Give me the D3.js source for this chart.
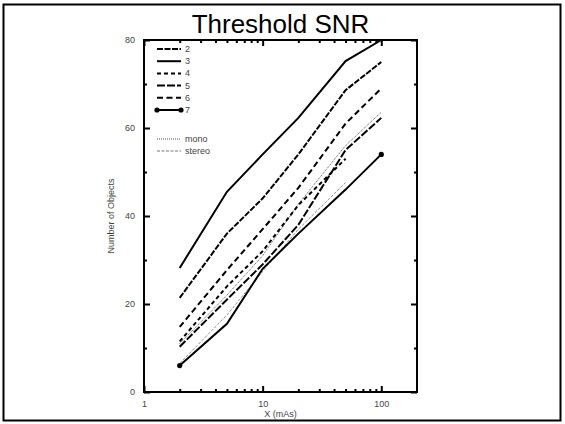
<!DOCTYPE html>
<html>
<head>
<meta charset="utf-8">
<script src="https://cdn.jsdelivr.net/npm/d3@7"></script>
<style>
  body { margin: 0; background: #fff; }
  svg { display: block; font-family: "Liberation Sans", Arial, sans-serif; }
</style>
</head>
<body>
<div id="chart"></div>
<script>
// data
const xValues = [2, 5, 10, 20, 50, 100];
const s2 = [21.4, 36, 44, 54, 68.6, 75];
const s3 = [28.2, 45.5, 54, 62.3, 75.2, 80];
const s4 = [11.5, 24, 32, 42.5, 53];
const s5 = [10.3, 21, 29, 38, 55, 62.3];
const s6 = [14.8, 27.7, 37, 46.4, 61, 69];
const s7 = [6, 15.5, 28, 36, 46, 54];
const mono = [11, 22, 31, 42.7, 56, 63.6];
const stereo = [6.5, 17.5, 27.4, 37, 47.6];

const yMajor = [0, 20, 40, 60, 80];
const yMinor = [10, 30, 50, 70];
const xMajor = [1, 10, 100];
const xMinor = [2, 3, 4, 5, 6, 7, 8, 9, 20, 30, 40, 50, 60, 70, 80, 90];

const series = [
    { name: "2", values: s2, dash: "6,1.5", width: 2, color: "#000" },
    { name: "3", values: s3, dash: null, width: 2, color: "#000" },
    { name: "4", values: s4, dash: "4,3", width: 2, color: "#000" },
    { name: "5", values: s5, dash: "8,2", width: 2, color: "#000" },
    { name: "6", values: s6, dash: "6,3.5", width: 2, color: "#000" },
    { name: "7", values: s7, dash: null, width: 2, color: "#000", dots: true }
];
const thin = [
    { name: "mono", values: mono, dash: "1,1", width: 1, color: "#555" },
    { name: "stereo", values: stereo, dash: "3,1.5", width: 0.8, color: "#777" }
];

const W = 565, H = 424;
const plot = { left: 144, right: 417, top: 40, bottom: 392 };

const svg = d3.select("#chart").append("svg")
    .attr("width", W)
    .attr("height", H);

// outer border
svg.append("rect")
    .attr("x", 3.5).attr("y", 4.5)
    .attr("width", 557).attr("height", 416)
    .attr("fill", "none").attr("stroke", "#000").attr("stroke-width", 2);

const x = d3.scaleLog().domain([1, 200]).range([plot.left, plot.right]);
const y = d3.scaleLinear().domain([0, 80]).range([plot.bottom, plot.top]);

// title
svg.append("text")
    .attr("x", (plot.left + plot.right) / 2)
    .attr("y", 33)
    .attr("text-anchor", "middle")
    .attr("font-size", "26px")
    .attr("fill", "#000")
    .text("Threshold SNR");

// ticks (inward, on all four sides)
function tickAxis(axis, transform, vals, size, labels) {
    const g = svg.append("g")
        .attr("transform", transform)
        .call(axis.tickValues(vals).tickSizeInner(size).tickSizeOuter(0)
            .tickPadding(labels ? 9 : 0)
            .tickFormat(labels ? d3.format("d") : ""));
    g.select(".domain").remove();
    g.selectAll("line").attr("stroke", "#000").attr("stroke-width", 2);
    g.selectAll("text").attr("font-size", "9px").attr("fill", "#444")
        .attr("font-family", "'Liberation Sans', Arial, sans-serif");
    return g;
}
tickAxis(d3.axisBottom(x), `translate(0,${plot.bottom})`, xMajor, -6, true);
tickAxis(d3.axisBottom(x), `translate(0,${plot.bottom})`, xMinor, -3, false);
tickAxis(d3.axisTop(x), `translate(0,${plot.top})`, xMajor, -6, false);
tickAxis(d3.axisTop(x), `translate(0,${plot.top})`, xMinor, -3, false);
tickAxis(d3.axisLeft(y), `translate(${plot.left},0)`, yMajor, -6, true);
tickAxis(d3.axisLeft(y), `translate(${plot.left},0)`, yMinor, -3, false);
tickAxis(d3.axisRight(y), `translate(${plot.right},0)`, yMajor, -6, false);
tickAxis(d3.axisRight(y), `translate(${plot.right},0)`, yMinor, -3, false);

// frame
svg.append("rect")
    .attr("x", plot.left).attr("y", plot.top)
    .attr("width", plot.right - plot.left).attr("height", plot.bottom - plot.top)
    .attr("fill", "none").attr("stroke", "#000").attr("stroke-width", 2);

// axis titles
svg.append("text")
    .attr("x", (plot.left + plot.right) / 2)
    .attr("y", 417)
    .attr("text-anchor", "middle")
    .attr("font-size", "9px")
    .attr("fill", "#444")
    .text("X (mAs)");

svg.append("text")
    .attr("transform", `translate(114,${(plot.top + plot.bottom) / 2}) rotate(-90)`)
    .attr("text-anchor", "middle")
    .attr("font-size", "9px")
    .attr("fill", "#444")
    .text("Number of Objects");

// lines
const line = d3.line()
    .x((d, i) => x(xValues[i]))
    .y(d => y(d));

const g = svg.append("g");

thin.concat(series).forEach(s => {
    g.append("path")
        .datum(s.values)
        .attr("fill", "none")
        .attr("stroke", s.color)
        .attr("stroke-width", s.width)
        .attr("stroke-dasharray", s.dash)
        .attr("d", line);
    if (s.dots) {
        // markers only at the two ends
        const last = s.values.length - 1;
        g.selectAll(null)
            .data([0, last])
            .enter().append("circle")
            .attr("cx", i => x(xValues[i]))
            .attr("cy", i => y(s.values[i]))
            .attr("r", 2.6)
            .attr("fill", "#000");
    }
});

// legend
const legend = svg.append("g");
const lx0 = 157, lx1 = 181, ly0 = 49, lstep = 12.2;
series.forEach((s, i) => {
    const ly = ly0 + i * lstep;
    legend.append("line")
        .attr("x1", lx0).attr("x2", lx1)
        .attr("y1", ly).attr("y2", ly)
        .attr("stroke", "#000").attr("stroke-width", 2)
        .attr("stroke-dasharray", s.dash);
    if (s.dots) {
        legend.selectAll(null).data([lx0, lx1]).enter().append("circle")
            .attr("cx", d => d).attr("cy", ly).attr("r", 2.6).attr("fill", "#000");
    }
    legend.append("text")
        .attr("x", lx1 + 4).attr("y", ly + 3)
        .attr("font-size", "9px").attr("fill", "#444")
        .text(s.name);
});
thin.forEach((s, i) => {
    const ly = 139 + i * 12;
    legend.append("line")
        .attr("x1", lx0).attr("x2", lx1)
        .attr("y1", ly).attr("y2", ly)
        .attr("stroke", s.color).attr("stroke-width", 1)
        .attr("stroke-dasharray", s.dash);
    legend.append("text")
        .attr("x", lx1 + 4).attr("y", ly + 3)
        .attr("font-size", "9px").attr("fill", "#444")
        .text(s.name);
});
</script>
</body>
</html>
